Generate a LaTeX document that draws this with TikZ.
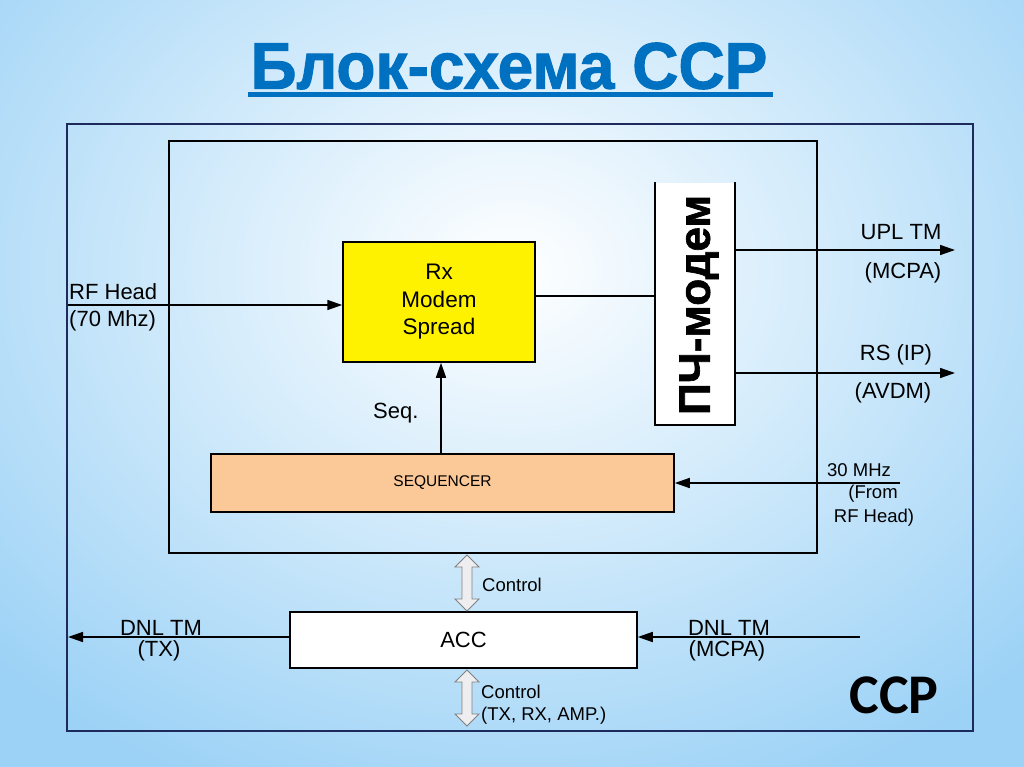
\documentclass[tikz,border=0pt]{standalone}
\usepackage{fontspec}
\setmainfont{Liberation Sans}
\newfontfamily\carlito{Carlito}
\newfontfamily\titlefont[FakeBold=1.5]{Liberation Sans Bold}
\usetikzlibrary{arrows.meta}
\definecolor{titleblue}{HTML}{0070C0}
\definecolor{bgblue}{HTML}{9CD2F6}
\definecolor{framenavy}{HTML}{1F2A5C}
\definecolor{seqfill}{HTML}{FBC898}
\definecolor{hollowfill}{HTML}{EEEEF0}
\tikzset{
  lbl/.style={inner sep=0pt, font=\fontsize{22}{27}\selectfont, align=left},
  dlbl/.style={inner sep=0pt, font=\fontsize{22}{23}\selectfont},
  rlbl/.style={inner sep=0pt, font=\fontsize{18.5}{23.5}\selectfont, align=left},
  clbl/.style={inner sep=0pt, font=\fontsize{18.5}{22}\selectfont, align=left},
  blk/.style={draw=black, line width=1.5pt, inner sep=0pt},
  sig/.style={line width=1.5pt, -{Triangle[length=15pt,width=10pt]}},
  wire/.style={line width=1.5pt},
  hollow/.style={draw=gray, fill=hollowfill, line width=0.8pt},
}
\begin{document}
\begin{tikzpicture}[x=1pt,y=-1pt]
\useasboundingbox (0,0) rectangle (1024,767);
% background
\shade[inner color=white, outer color=bgblue] (-200,-300) rectangle (1224,840);
% title
\node[inner sep=0pt, text=titleblue, font=\titlefont\fontsize{66}{70}\selectfont] (title) at (509,66) {\scalebox{0.97}[1]{Блок-схема ССР}};
\fill[titleblue] (248,92) rectangle (773,97);
% outer frame
\draw[framenavy, line width=1.5pt] (67,124) rectangle (973,731);
% inner frame
\draw[black, line width=2pt] (169,141) rectangle (817,553);
% Rx box
\node[blk, fill=yellow, minimum width=192pt, minimum height=120pt, font=\fontsize{22.5}{27.5}\selectfont, align=center] (rx) at (439,302) {Rx\\Modem\\Spread};
% sequencer
\node[blk, fill=seqfill, minimum width=463pt, minimum height=58pt, font=\fontsize{15.5}{18}\selectfont] (seq) at (442.5,483) {SEQUENCER};
% PCh modem
\fill[white] (655,183) rectangle (735,425);
\draw[black, line width=1.5pt] (655,182) -- (655,425) -- (735,425) -- (735,182);
\node[inner sep=0pt, rotate=90, font=\titlefont\fontsize{44}{48}\selectfont] (pch) at (699,305) {ПЧ-модем};
\coordinate (pchL) at (655,296);
\coordinate (pchU) at (735,250);
\coordinate (pchR) at (735,373);
% ACC
\node[blk, fill=white, minimum width=347pt, minimum height=56pt, font=\fontsize{22}{24}\selectfont] (acc) at (463.5,640) {ACC};
% connectors
\coordinate (rfin) at (68,305);
\draw[sig] (rfin) -- (rx.west |- rfin);
\node[lbl, anchor=west] (rflbl) at (69,307) {RF Head\\(70 Mhz)};
\draw[sig] (seq.north -| 441,0) -- (rx.south -| 441,0);
\node[lbl, anchor=west] (seqlbl) at (373,413) {Seq.};
\draw[wire] (rx.east |- pchL) -- (pchL);
\coordinate (uplout) at (955,250);
\coordinate (rsout) at (955,373);
\draw[sig] (pchU) -- (uplout);
\draw[sig] (pchR) -- (rsout);
\node[lbl, anchor=center] (upl1) at (901,232) {UPL TM};
\node[lbl, anchor=center] (upl2) at (903,273) {(MCPA)};
\node[lbl, anchor=center] (rs1) at (896,355) {RS (IP)};
\node[lbl, anchor=center] (rs2) at (893,393) {(AVDM)};
\coordinate (mhzin) at (900,483);
\draw[sig] (mhzin) -- (seq.east |- mhzin);
\node[rlbl, anchor=center] (mhz1) at (859,470) {30 MHz};
\node[rlbl, anchor=center] (mhz2) at (873,494) {(From};
\node[rlbl, anchor=center] (mhz3) at (874,518) {RF Head)};
% DNL TM
\coordinate (dnlout) at (68,637);
\coordinate (dnlin) at (860,637);
\draw[sig] (acc.west |- dnlout) -- (dnlout);
\draw[sig] (dnlin) -- (acc.east |- dnlin);
\node[dlbl, anchor=center] (dnl1) at (161,628) {DNL TM};
\node[dlbl, anchor=center] (dnl2) at (159,651) {(TX)};
\node[dlbl, anchor=center] (dnl3) at (729,628) {DNL TM};
\node[dlbl, anchor=center] (dnl4) at (727,651) {(MCPA)};
% hollow double arrows
\draw[hollow] (467,555) -- (479,567) -- (472,567) -- (472,599) -- (479,599) -- (467,611) -- (455,599) -- (462,599) -- (462,567) -- (455,567) -- cycle;
\draw[hollow] (467,670) -- (479,682) -- (472,682) -- (472,714) -- (479,714) -- (467,726) -- (455,714) -- (462,714) -- (462,682) -- (455,682) -- cycle;
\node[clbl, anchor=west] (ctl1) at (482,585) {Control};
\node[clbl, anchor=west] (ctl2) at (481,705) {Control\\(TX, RX, AMP.)};
% CCP
\node[inner sep=0pt, font=\carlito\fontsize{56}{60}\bfseries\selectfont] (ccp) at (894,695) {CCP};
\end{tikzpicture}
\end{document}
